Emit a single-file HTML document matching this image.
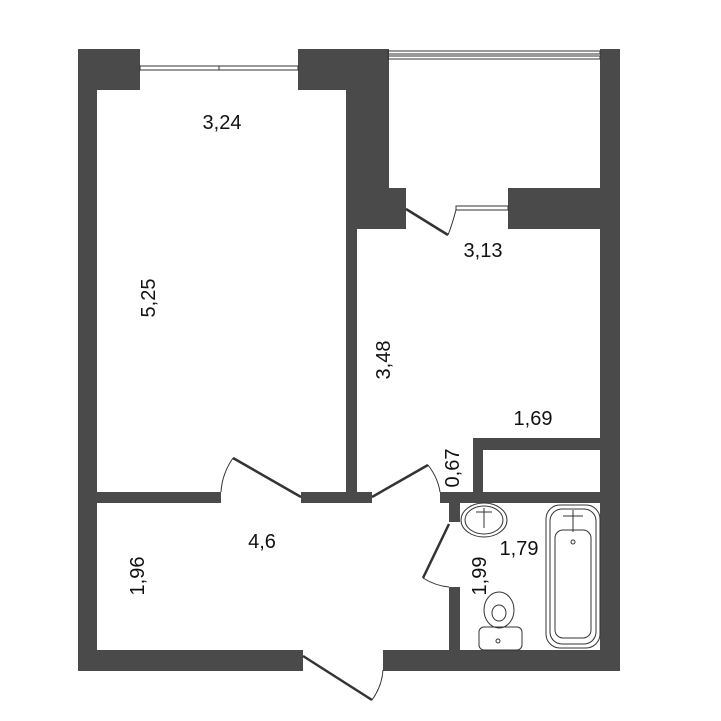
<!DOCTYPE html>
<html><head><meta charset="utf-8"><style>html,body{margin:0;padding:0;background:#fff}svg{display:block}text{font-family:"Liberation Sans",sans-serif;font-size:20px;fill:#111}</style></head><body>
<svg width="721" height="721" viewBox="0 0 721 721" xmlns="http://www.w3.org/2000/svg">
<g fill="#4a4a4a">
<rect x="78" y="49" width="19" height="622"/>
<rect x="78" y="49" width="62" height="41"/>
<rect x="298" y="49" width="91" height="41"/>
<rect x="346" y="49" width="43" height="180"/>
<rect x="346" y="188" width="60" height="41"/>
<rect x="346" y="229" width="11" height="274"/>
<rect x="508" y="188" width="112" height="41"/>
<rect x="600" y="49" width="20" height="622"/>
<rect x="97" y="492" width="124" height="11"/>
<rect x="301" y="492" width="71" height="11"/>
<rect x="440" y="492" width="160" height="11"/>
<rect x="473" y="438" width="10" height="58"/>
<rect x="473" y="438" width="127" height="12"/>
<rect x="449" y="503" width="11" height="19"/>
<rect x="449" y="587" width="11" height="70"/>
<rect x="78" y="650" width="225" height="21"/>
<rect x="383" y="650" width="237" height="21"/>
</g>
<g fill="none" stroke="#333" stroke-width="1">
<rect x="140" y="66" width="158" height="4"/>
<line x1="219" y1="66" x2="219" y2="70"/>
<rect x="388" y="51" width="212" height="3"/><rect x="388" y="56" width="212" height="3"/>
<rect x="456" y="206" width="52" height="4"/>
<path d="M456 210 Q452 225 448 235"/>
<path d="M233 458 Q222 474 221 492"/>
<path d="M428 465 Q438 478 440 492"/>
<path d="M423 578 Q436 586 449 587"/>
<path d="M372 700 Q382 686 383 670"/>
<ellipse cx="484" cy="520" rx="23" ry="17"/><ellipse cx="484" cy="520" rx="19" ry="14"/>
<path d="M476 512 H492 M484 508 V528"/>
<rect x="546" y="505" width="54" height="143" rx="14"/><rect x="550" y="509" width="46" height="135" rx="12"/>
<rect x="555" y="530" width="36" height="108" rx="8"/>
<path d="M563 516 H583 M573 510 V532"/><circle cx="573" cy="542" r="2"/>
<rect x="479" y="627" width="43" height="23" rx="5"/>
<ellipse cx="499" cy="610" rx="15" ry="18"/><ellipse cx="499" cy="613" rx="7" ry="8"/>
<circle cx="498" cy="641" r="2"/>
</g>
<g stroke="#333" stroke-width="2.5">
<line x1="406" y1="209" x2="448" y2="235"/>
<line x1="233" y1="458" x2="301" y2="497"/>
<line x1="372" y1="497" x2="428" y2="465"/>
<line x1="449" y1="524" x2="423" y2="578"/>
<line x1="303" y1="656" x2="372" y2="700"/>
</g>
<text x="222" y="129" text-anchor="middle">3,24</text>
<text x="483" y="257" text-anchor="middle">3,13</text>
<text x="533" y="425" text-anchor="middle">1,69</text>
<text x="262" y="548" text-anchor="middle">4,6</text>
<text x="519" y="555" text-anchor="middle">1,79</text>
<text transform="translate(155,298) rotate(-90)" text-anchor="middle">5,25</text>
<text transform="translate(390,360) rotate(-90)" text-anchor="middle">3,48</text>
<text transform="translate(459,468) rotate(-90)" text-anchor="middle">0,67</text>
<text transform="translate(144,576) rotate(-90)" text-anchor="middle">1,96</text>
<text transform="translate(486,576) rotate(-90)" text-anchor="middle">1,99</text>
</svg>
</body></html>
